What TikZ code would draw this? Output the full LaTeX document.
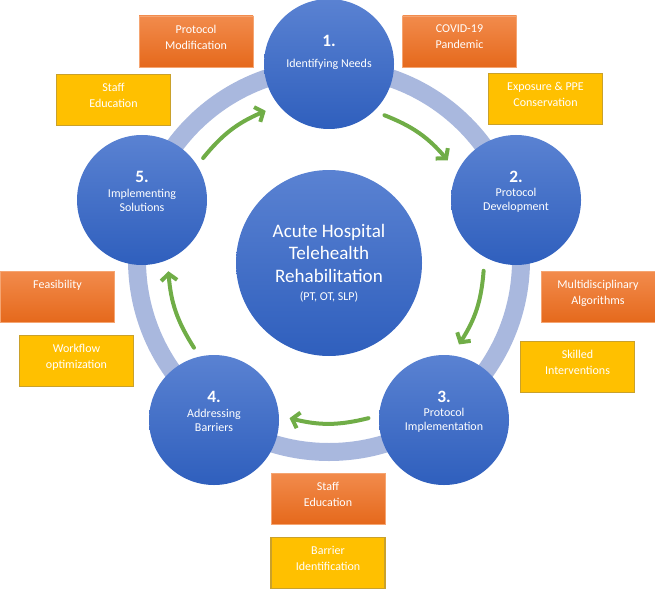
\documentclass[tikz,border=0pt]{standalone}
\usepackage{fontspec}
\setmainfont{Carlito}
\usepackage{tikz}
\usetikzlibrary{arrows.meta,calc,positioning}
\usepackage{xcolor}
\definecolor{bluetop}{HTML}{5A82D2}
\definecolor{bluebot}{HTML}{2F5FBD}
\definecolor{ringblue}{HTML}{A9B8DE}
\definecolor{flowgreen}{HTML}{70AD47}
\definecolor{orgtop}{HTML}{F28B4C}
\definecolor{orgbot}{HTML}{E5691C}
\definecolor{orgedge}{HTML}{F5A572}
\definecolor{gold}{HTML}{FFC000}
\definecolor{goldedge}{HTML}{C9A12B}
\newcommand{\lift}{\\[-5.25pt]\mbox{}}

\begin{document}
\begin{tikzpicture}[
    x=.75pt,y=.75pt,
    stage/.style={circle,minimum size=97.5pt,inner sep=0pt,top color=bluetop,bottom color=bluebot,
      text=white,align=center,font=\fontsize{9}{10.5}\selectfont},
    hub/.style={stage,minimum size=139.5pt,font=\fontsize{14.3}{17}\selectfont},
    num/.style={text=white,font=\fontsize{13}{13}\selectfont\bfseries},
    tag/.style={rectangle,minimum width=85.5pt,minimum height=38.25pt,inner sep=0pt,align=center,
      text=white,font=\fontsize{9}{12}\selectfont},
    driver/.style={tag,top color=orgtop,bottom color=orgbot,draw=orgedge,line width=.6pt},
    action/.style={tag,fill=gold,draw=goldedge,line width=1pt},
    ring/.style={draw=ringblue,line width=13.5pt},
    flow/.style={-{Straight Barb[length=5pt,width=12pt]},line width=3pt,flowgreen,line cap=round}
  ]
    \useasboundingbox (0,0) rectangle (655,590);
    \coordinate (mid) at (329,330);
    \draw[ring] (mid) circle[radius=192];

    \node[hub] (hub) at (329,327) {Acute Hospital\\Telehealth\\Rehabilitation\\[-3.5pt]{\fontsize{9}{11}\selectfont (PT, OT, SLP)}};
    \node[stage] (s1) at (329,526) {Identifying Needs};
    \node[stage] (s2) at (516,390) {Protocol\\Development};
    \node[stage] (s3) at (444,170) {Protocol\\Implementation};
    \node[stage] (s4) at (214,170) {Addressing\\Barriers};
    \node[stage] (s5) at (142,390) {Implementing\\Solutions};
    \foreach \s in {1,...,5} {\node[num] at ([yshift=17.25pt]s\s.center) {\s.};}

    \foreach \a/\b/\r [count=\i] in {141/113/162,69/40/155,-4/-33/155,-76/-104/163,-147/-176/161} {
      \coordinate (f\i) at ($(mid)+(\a:\r)$); \coordinate (t\i) at ($(mid)+(\b:\r)$);
      \draw[flow] (f\i) to[bend left=14] (t\i);}

    \node[driver] (pm) at (196,548.5) {Protocol\\Modification\lift};
    \node[driver] (cv) at (459.5,548.5) {COVID-19\\Pandemic\lift};
    \node[action] (se) at (113.5,490) {Staff\\Education\lift};
    \node[action] (ex) at (545.5,491) {Exposure \& PPE\\Conservation\lift};
    \node[driver] (fe) at (57.5,293.5) {Feasibility\\\mbox{}\lift};
    \node[driver] (ma) at (598,293) {Multidisciplinary\\Algorithms\lift};
    \node[action] (wo) at (76.5,229) {Workflow\\optimization\lift};
    \node[action] (si) at (577.5,223) {Skilled\\Interventions\lift};
    \node[driver] (sb) at (328,91.5) {Staff\\Education\lift};
    \node[action] (bi) at (328,27) {Barrier\\Identification\lift};
\end{tikzpicture}
\end{document}
